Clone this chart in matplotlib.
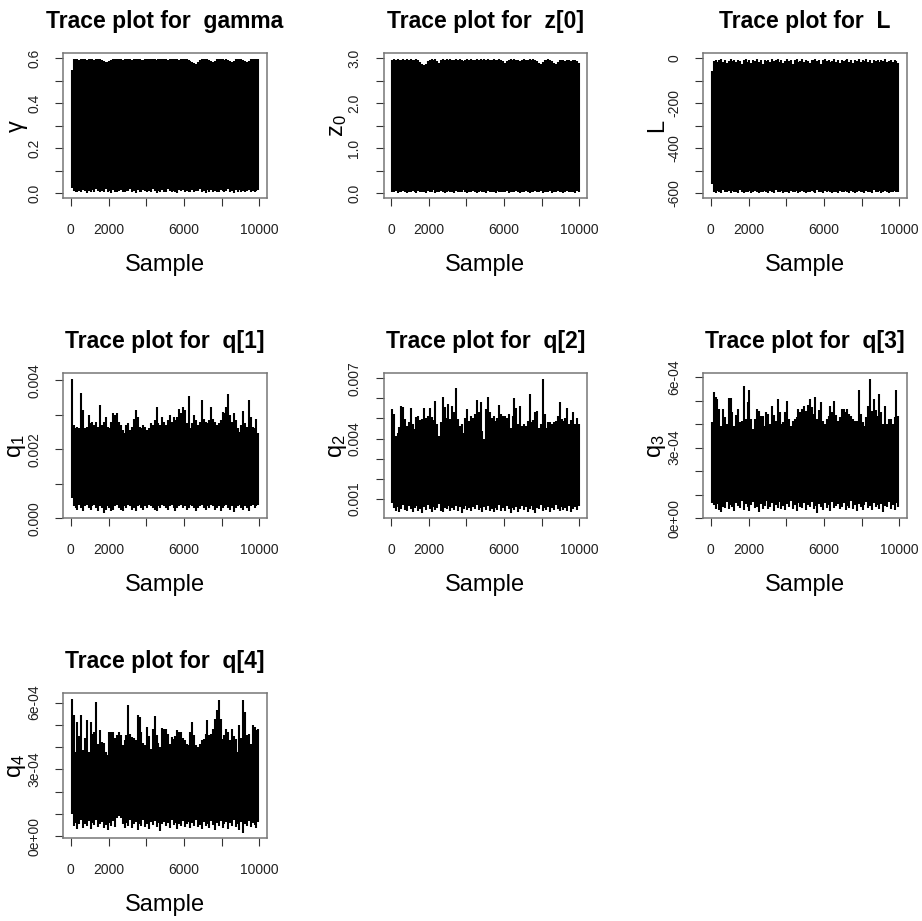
import numpy as np
import matplotlib
matplotlib.use("Agg")
import matplotlib.pyplot as plt
from matplotlib.transforms import offset_copy

plt.rcParams['font.family'] = 'Liberation Sans'
plt.rcParams['mathtext.fontset'] = 'custom'
plt.rcParams['mathtext.rm'] = 'Liberation Sans'
plt.rcParams['mathtext.it'] = 'Liberation Sans:italic'

# trace envelopes: max / min of the chain per 100 samples
n_samples = 10000
bin_size = 100
samples = np.arange(bin_size // 2, n_samples, bin_size)

gamma_hi = [0.548, 0.596, 0.599, 0.597, 0.595, 0.598, 0.599, 0.596, 0.594, 0.598,
            0.597, 0.599, 0.595, 0.597, 0.598, 0.596, 0.593, 0.589, 0.586, 0.584,
            0.588, 0.594, 0.598, 0.599, 0.596, 0.597, 0.599, 0.595, 0.598, 0.596,
            0.599, 0.597, 0.594, 0.598, 0.596, 0.599, 0.597, 0.595, 0.591, 0.598,
            0.599, 0.596, 0.598, 0.597, 0.599, 0.595, 0.597, 0.598, 0.596, 0.599,
            0.597, 0.594, 0.598, 0.596, 0.599, 0.597, 0.598, 0.595, 0.597, 0.599,
            0.596, 0.598, 0.594, 0.590, 0.585, 0.579, 0.576, 0.584, 0.593, 0.597,
            0.599, 0.596, 0.598, 0.593, 0.587, 0.584, 0.590, 0.597, 0.599, 0.596,
            0.598, 0.595, 0.597, 0.594, 0.589, 0.585, 0.588, 0.596, 0.598, 0.597,
            0.599, 0.595, 0.589, 0.584, 0.587, 0.596, 0.598, 0.597, 0.599, 0.596]
gamma_lo = [0.022, 0.012, 0.008, 0.004, 0.010, 0.006, 0.015, 0.009, 0.003, 0.011,
            0.007, 0.013, 0.005, 0.018, 0.009, 0.004, 0.012, 0.008, 0.020, 0.006,
            0.010, 0.003, 0.014, 0.008, 0.005, 0.011, 0.016, 0.007, 0.004, 0.012,
            0.009, 0.021, 0.006, 0.010, 0.003, 0.013, 0.008, 0.005, 0.015, 0.010,
            0.004, 0.012, 0.007, 0.018, 0.009, 0.003, 0.011, 0.006, 0.014, 0.008,
            0.005, 0.019, 0.010, 0.004, 0.012, 0.007, 0.002, 0.013, 0.009, 0.016,
            0.006, 0.011, 0.004, 0.008, 0.015, 0.005, 0.012, 0.009, 0.020, 0.006,
            0.010, 0.003, 0.013, 0.008, 0.017, 0.005, 0.011, 0.007, 0.004, 0.014,
            0.009, 0.006, 0.012, 0.018, 0.005, 0.010, 0.003, 0.013, 0.008, 0.016,
            0.006, 0.011, 0.004, 0.009, 0.014, 0.007, 0.012, 0.005, 0.010, 0.015]

z0_hi = [2.96, 2.98, 2.97, 2.99, 2.96, 2.95, 2.98, 2.97, 2.99, 2.96,
         2.98, 2.95, 2.97, 2.99, 2.96, 2.92, 2.87, 2.85, 2.88, 2.93,
         2.97, 2.99, 2.96, 2.98, 2.94, 2.90, 2.95, 2.98, 2.97, 2.99,
         2.96, 2.98, 2.95, 2.97, 2.99, 2.96, 2.98, 2.97, 2.94, 2.96,
         2.99, 2.97, 2.98, 2.95, 2.97, 2.99, 2.96, 2.98, 2.97, 2.99,
         2.96, 2.98, 2.95, 2.97, 2.99, 2.96, 2.97, 2.98, 2.95, 2.93,
         2.90, 2.94, 2.97, 2.99, 2.96, 2.98, 2.95, 2.97, 2.94, 2.96,
         2.98, 2.97, 2.95, 2.99, 2.96, 2.98, 2.96, 2.93, 2.90, 2.88,
         2.91, 2.95, 2.97, 2.98, 2.96, 2.94, 2.90, 2.88, 2.92, 2.96,
         2.97, 2.95, 2.93, 2.97, 2.96, 2.94, 2.97, 2.95, 2.93, 2.90]
z0_lo = [0.03, 0.02, 0.05, 0.01, 0.04, 0.02, 0.06, 0.03, 0.01, 0.04,
         0.02, 0.05, 0.03, 0.01, 0.06, 0.02, 0.04, 0.03, 0.01, 0.05,
         0.02, 0.03, 0.07, 0.01, 0.04, 0.02, 0.05, 0.03, 0.01, 0.04,
         0.06, 0.02, 0.03, 0.01, 0.05, 0.02, 0.04, 0.03, 0.08, 0.02,
         0.01, 0.04, 0.03, 0.05, 0.02, 0.01, 0.04, 0.06, 0.02, 0.03,
         0.01, 0.05, 0.02, 0.04, 0.03, 0.01, 0.06, 0.02, 0.04, 0.03,
         0.02, 0.05, 0.01, 0.03, 0.04, 0.02, 0.06, 0.03, 0.01, 0.04,
         0.02, 0.05, 0.03, 0.01, 0.04, 0.02, 0.06, 0.03, 0.02, 0.05,
         0.01, 0.04, 0.03, 0.02, 0.05, 0.01, 0.04, 0.03, 0.06, 0.02,
         0.04, 0.01, 0.03, 0.05, 0.02, 0.04, 0.03, 0.01, 0.05, 0.02]

L_hi = [-57, -14, -8, -20, -11, -5, -17, -9, -24, -12,
        -6, -15, -10, -19, -7, -13, -27, -9, -4, -16,
        -11, -22, -8, -14, -5, -18, -10, -25, -7, -13,
        -9, -20, -6, -15, -11, -3, -17, -8, -23, -12,
        -5, -14, -9, -28, -10, -6, -16, -12, -4, -19,
        -8, -13, -21, -7, -11, -5, -15, -9, -26, -10,
        -6, -14, -8, -18, -12, -4, -16, -10, -22, -7,
        -13, -9, -5, -17, -11, -24, -8, -14, -6, -19,
        -10, -12, -5, -16, -9, -21, -7, -13, -11, -18,
        -8, -15, -6, -20, -12, -9, -17, -10, -14, -22]
L_lo = [-558, -594, -598, -591, -596, -599, -588, -595, -597, -592,
        -599, -590, -596, -594, -598, -587, -595, -599, -593, -597,
        -591, -598, -595, -589, -596, -599, -593, -597, -590, -595,
        -598, -592, -596, -599, -588, -594, -597, -591, -598, -595,
        -593, -599, -590, -596, -597, -592, -598, -594, -589, -596,
        -599, -593, -597, -591, -595, -598, -588, -596, -594, -599,
        -592, -597, -590, -595, -598, -593, -596, -599, -591, -594,
        -597, -589, -595, -598, -592, -596, -599, -593, -590, -597,
        -594, -598, -591, -596, -593, -599, -588, -595, -597, -592,
        -598, -594, -590, -596, -599, -593, -595, -591, -597, -594]

# q[1], q[2] in units of 1e-3
q1_hi = [4.05, 2.70, 2.61, 2.65, 2.61, 3.63, 3.13, 2.61, 2.65, 2.99,
         2.75, 2.80, 2.70, 2.80, 2.65, 3.28, 2.70, 2.80, 2.94, 2.65,
         2.61, 2.80, 3.04, 2.99, 3.04, 2.80, 2.70, 2.56, 2.46, 2.70,
         2.75, 2.56, 2.65, 2.89, 3.13, 2.94, 2.65, 2.61, 2.70, 2.65,
         2.56, 2.61, 2.75, 2.70, 2.85, 3.23, 2.75, 2.70, 2.94, 2.80,
         2.70, 2.85, 2.99, 2.80, 2.94, 2.85, 2.94, 3.18, 3.04, 3.23,
         3.13, 2.75, 3.54, 2.61, 2.75, 2.99, 2.85, 2.70, 2.80, 3.42,
         2.89, 2.80, 2.75, 2.85, 3.23, 2.89, 2.80, 2.70, 2.75, 2.85,
         3.09, 3.04, 3.23, 3.60, 2.99, 2.80, 3.04, 2.85, 2.61, 2.51,
         2.70, 3.12, 2.75, 2.65, 3.44, 2.94, 2.65, 2.61, 2.89, 2.46]
q1_lo = [0.60, 0.35, 0.30, 0.25, 0.40, 0.30, 0.20, 0.35, 0.40, 0.30,
         0.25, 0.35, 0.40, 0.30, 0.20, 0.35, 0.30, 0.16, 0.25, 0.35,
         0.30, 0.20, 0.25, 0.35, 0.40, 0.30, 0.25, 0.20, 0.35, 0.30,
         0.40, 0.35, 0.25, 0.30, 0.20, 0.35, 0.40, 0.30, 0.25, 0.35,
         0.30, 0.40, 0.35, 0.30, 0.25, 0.20, 0.35, 0.30, 0.40, 0.35,
         0.30, 0.25, 0.35, 0.40, 0.30, 0.20, 0.30, 0.35, 0.40, 0.30,
         0.35, 0.25, 0.30, 0.40, 0.35, 0.30, 0.20, 0.30, 0.35, 0.40,
         0.30, 0.25, 0.35, 0.30, 0.40, 0.35, 0.25, 0.30, 0.35, 0.20,
         0.30, 0.35, 0.40, 0.30, 0.25, 0.35, 0.18, 0.30, 0.35, 0.40,
         0.30, 0.25, 0.35, 0.30, 0.20, 0.35, 0.40, 0.30, 0.35, 0.40]

q2_hi = [5.47, 5.22, 4.13, 4.30, 4.60, 5.63, 5.55, 4.97, 4.63, 4.80,
         5.50, 4.70, 4.47, 5.05, 5.13, 4.90, 4.97, 5.50, 5.00, 5.13,
         5.50, 5.05, 4.90, 5.88, 4.72, 4.13, 4.80, 6.05, 5.55, 5.00,
         5.72, 4.97, 5.63, 5.30, 6.50, 4.97, 4.63, 4.70, 4.30, 5.00,
         5.47, 4.88, 5.13, 5.00, 5.22, 5.92, 5.30, 5.83, 4.40, 3.97,
         5.47, 6.08, 5.30, 5.00, 5.13, 4.88, 5.00, 5.67, 5.22, 5.13,
         5.13, 5.00, 5.22, 4.55, 5.10, 6.00, 5.50, 4.72, 5.63, 4.63,
         4.70, 4.63, 4.88, 6.22, 4.80, 4.90, 5.30, 5.38, 4.55, 4.70,
         6.98, 5.22, 4.55, 4.80, 4.83, 4.70, 4.80, 4.88, 5.10, 5.80,
         4.97, 4.88, 5.00, 5.50, 4.72, 4.90, 5.30, 4.72, 5.00, 4.72]
q2_lo = [0.80, 0.55, 0.42, 0.60, 0.35, 0.50, 0.70, 0.45, 0.38, 0.62,
         0.48, 0.33, 0.55, 0.66, 0.40, 0.52, 0.30, 0.58, 0.45, 0.68,
         0.50, 0.37, 0.60, 0.44, 0.55, 0.72, 0.41, 0.35, 0.57, 0.48,
         0.62, 0.39, 0.53, 0.46, 0.66, 0.42, 0.58, 0.31, 0.50, 0.64,
         0.45, 0.56, 0.38, 0.61, 0.49, 0.70, 0.43, 0.54, 0.36, 0.59,
         0.47, 0.65, 0.40, 0.52, 0.33, 0.57, 0.46, 0.68, 0.41, 0.55,
         0.38, 0.62, 0.49, 0.31, 0.56, 0.44, 0.60, 0.37, 0.52, 0.66,
         0.43, 0.58, 0.35, 0.50, 0.63, 0.45, 0.30, 0.55, 0.48, 0.67,
         0.40, 0.53, 0.46, 0.61, 0.34, 0.57, 0.44, 0.69, 0.50, 0.39,
         0.60, 0.47, 0.55, 0.42, 0.64, 0.36, 0.51, 0.58, 0.45, 0.62]

# q[3], q[4] in units of 1e-4
q3_hi = [4.07, 5.36, 5.14, 5.07, 4.64, 3.93, 4.64, 4.30, 4.00, 5.10,
         5.10, 4.50, 3.93, 4.40, 4.64, 4.07, 4.14, 5.61, 4.21, 4.93,
         5.47, 4.21, 3.79, 4.20, 4.64, 4.57, 4.36, 4.36, 3.93, 4.50,
         4.43, 4.00, 4.79, 4.40, 4.14, 5.07, 4.50, 4.00, 4.07, 4.50,
         5.00, 4.21, 3.93, 4.14, 4.20, 4.29, 4.64, 4.50, 4.64, 4.79,
         4.57, 4.80, 5.07, 4.71, 4.43, 5.14, 4.21, 4.60, 4.93, 4.14,
         4.00, 4.20, 4.36, 4.79, 4.50, 5.00, 4.40, 4.14, 4.29, 4.64,
         4.64, 4.50, 4.64, 4.43, 4.36, 4.20, 4.14, 4.14, 5.47, 4.43,
         4.10, 3.93, 4.29, 4.79, 5.93, 4.57, 5.07, 4.60, 4.36, 5.29,
         4.50, 4.00, 4.79, 4.00, 4.21, 4.21, 4.00, 4.30, 5.43, 4.36]
q3_lo = [0.64, 0.55, 0.40, 0.62, 0.35, 0.28, 0.50, 0.45, 0.70, 0.38,
         0.58, 0.48, 0.30, 0.66, 0.52, 0.42, 0.75, 0.36, 0.60, 0.46,
         0.33, 0.56, 0.68, 0.44, 0.50, 0.27, 0.62, 0.40, 0.54, 0.72,
         0.38, 0.48, 0.64, 0.31, 0.57, 0.45, 0.69, 0.41, 0.52, 0.35,
         0.60, 0.47, 0.74, 0.39, 0.55, 0.30, 0.63, 0.50, 0.43, 0.67,
         0.36, 0.58, 0.46, 0.71, 0.40, 0.53, 0.23, 0.61, 0.48, 0.37,
         0.65, 0.44, 0.56, 0.33, 0.70, 0.42, 0.51, 0.60, 0.38, 0.47,
         0.66, 0.35, 0.54, 0.45, 0.73, 0.40, 0.58, 0.29, 0.62, 0.49,
         0.37, 0.55, 0.68, 0.43, 0.52, 0.34, 0.64, 0.47, 0.57, 0.39,
         0.61, 0.26, 0.53, 0.46, 0.69, 0.41, 0.56, 0.36, 0.63, 0.50]

q4_hi = [6.18, 5.43, 3.78, 5.13, 4.50, 5.43, 3.86, 4.40, 5.20, 3.78,
         5.13, 4.60, 4.68, 6.03, 4.16, 4.76, 4.23, 4.20, 3.78, 3.63,
         4.68, 4.68, 4.68, 4.40, 4.53, 4.68, 4.53, 4.08, 4.30, 4.53,
         5.88, 4.60, 4.46, 4.40, 4.30, 5.43, 5.36, 4.68, 4.20, 4.08,
         4.90, 4.50, 3.93, 4.83, 5.40, 4.53, 4.20, 4.00, 4.86, 4.83,
         4.83, 4.60, 4.16, 4.46, 4.38, 4.50, 4.76, 4.68, 4.68, 4.40,
         4.30, 4.16, 4.08, 4.70, 5.13, 4.53, 4.08, 4.00, 4.16, 4.30,
         4.38, 4.60, 5.20, 4.53, 4.60, 4.83, 5.28, 5.66, 6.10, 5.28,
         4.38, 4.53, 4.83, 4.68, 4.30, 4.83, 4.50, 4.38, 3.78, 4.98,
         4.40, 6.10, 5.58, 4.53, 4.60, 4.16, 4.98, 4.90, 4.76, 4.83]
q4_lo = [1.00, 0.45, 0.60, 0.32, 0.52, 0.70, 0.38, 0.55, 0.44, 0.66,
         0.30, 0.58, 0.48, 0.72, 0.40, 0.53, 0.62, 0.36, 0.50, 0.25,
         0.57, 0.46, 0.68, 0.42, 0.80, 0.88, 0.82, 0.55, 0.34, 0.60,
         0.45, 0.70, 0.38, 0.52, 0.63, 0.28, 0.56, 0.47, 0.74, 0.41,
         0.54, 0.33, 0.61, 0.49, 0.67, 0.39, 0.58, 0.22, 0.52, 0.65,
         0.44, 0.57, 0.36, 0.70, 0.48, 0.60, 0.31, 0.55, 0.43, 0.68,
         0.40, 0.53, 0.62, 0.35, 0.58, 0.46, 0.72, 0.42, 0.50, 0.30,
         0.64, 0.45, 0.56, 0.38, 0.69, 0.48, 0.27, 0.59, 0.43, 0.66,
         0.37, 0.54, 0.61, 0.33, 0.57, 0.47, 0.71, 0.40, 0.52, 0.29,
         0.63, 0.14, 0.55, 0.44, 0.67, 0.39, 0.58, 0.49, 0.36, 0.62]

names = ['gamma', 'z[0]', 'L', 'q[1]', 'q[2]', 'q[3]', 'q[4]']
ylabels = ['γ', r'$\mathrm{z}_0$', 'L', r'$\mathrm{q}_1$', r'$\mathrm{q}_2$',
           r'$\mathrm{q}_3$', r'$\mathrm{q}_4$']
highs = [gamma_hi, z0_hi, L_hi, np.array(q1_hi) * 1e-3, np.array(q2_hi) * 1e-3,
         np.array(q3_hi) * 1e-4, np.array(q4_hi) * 1e-4]
lows = [gamma_lo, z0_lo, L_lo, np.array(q1_lo) * 1e-3, np.array(q2_lo) * 1e-3,
        np.array(q3_lo) * 1e-4, np.array(q4_lo) * 1e-4]

xticks = [0, 2000, 4000, 6000, 8000, 10000]
xticklabels = ['0', '2000', '', '6000', '', '10000']
yticks = [[0, 0.1, 0.2, 0.3, 0.4, 0.5, 0.6],
          [0, 0.5, 1.0, 1.5, 2.0, 2.5, 3.0],
          [-600, -500, -400, -300, -200, -100, 0],
          [0, 0.001, 0.002, 0.003, 0.004],
          [0.001, 0.002, 0.003, 0.004, 0.005, 0.006, 0.007],
          [0, 1e-4, 2e-4, 3e-4, 4e-4, 5e-4, 6e-4],
          [0, 1e-4, 2e-4, 3e-4, 4e-4, 5e-4, 6e-4]]
yticklabels = [['0.0', '', '0.2', '', '0.4', '', '0.6'],
               ['0.0', '', '1.0', '', '2.0', '', '3.0'],
               ['-600', '', '-400', '', '-200', '', '0'],
               ['0.000', '', '0.002', '', '0.004'],
               ['0.001', '', '', '0.004', '', '', '0.007'],
               ['0e+00', '', '', '3e-04', '', '', '6e-04'],
               ['0e+00', '', '', '3e-04', '', '', '6e-04']]

W, H = 922, 921
fig = plt.figure(figsize=(W / 100, H / 100), dpi=100)

box_left = [63.3, 383.5, 703.3]
box_top = [53.3, 373.3, 693.3]
box_w, box_h = 203.5, 145

for i in range(7):
    r, c = divmod(i, 3)
    x0, y0 = box_left[c], box_top[r]
    ax = fig.add_axes([x0 / W, 1 - (y0 + box_h) / H, box_w / W, box_h / H])

    hi = np.asarray(highs[i], dtype=float)
    lo = np.asarray(lows[i], dtype=float)
    ax.vlines(samples, lo, hi, colors='black', linewidth=1.5, capstyle='butt')

    pad = 0.04 * (n_samples - 1)
    ax.set_xlim(1 - pad, n_samples + pad)
    rng = hi.max() - lo.min()
    ax.set_ylim(lo.min() - 0.04 * rng, hi.max() + 0.04 * rng)

    ax.set_xticks(xticks)
    ax.set_xticklabels(xticklabels)
    ax.set_yticks(yticks[i])
    ax.set_yticklabels(yticklabels[i])
    ax.tick_params(axis='both', direction='out', length=5.5, width=0.8,
                   color='#333333', labelsize=10, labelcolor='#222222')
    ax.tick_params(axis='x', pad=12)
    ax.tick_params(axis='y', pad=10.5, labelrotation=90)
    for lab in ax.get_yticklabels():
        lab.set_verticalalignment('center')
    for sp in ax.spines.values():
        sp.set_color('#777777')
        sp.set_linewidth(1.1)

    ax.set_title('Trace plot for  ' + names[i], fontsize=16.5,
                 fontweight='bold', pad=18.5)

    tr = offset_copy(ax.transAxes, fig=fig, y=-72.7 * 0.72, units='points')
    ax.text(0.5, 0, 'Sample', transform=tr, ha='center', va='baseline',
            fontsize=17)
    tr = offset_copy(ax.transAxes, fig=fig, x=-46 * 0.72, units='points')
    ax.text(0, 0.5, ylabels[i], transform=tr, ha='center', va='center',
            rotation=90, fontsize=17)

fig.savefig('out.png', dpi=100)
